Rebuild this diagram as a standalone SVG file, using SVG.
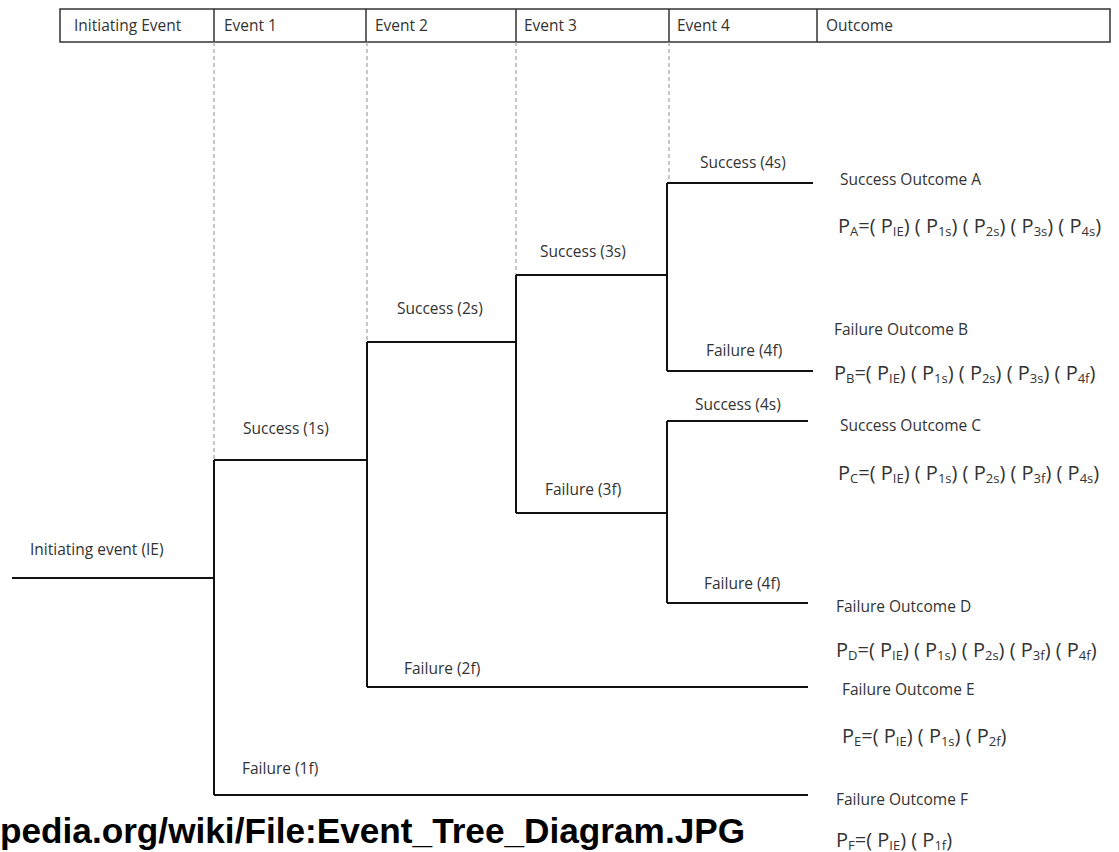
<svg xmlns="http://www.w3.org/2000/svg" width="1119" height="852" viewBox="0 0 1119 852">
<style>
.hdr{fill:none;stroke:#333;stroke-width:1.5}
.dash{stroke:#aaa;stroke-width:1.3;stroke-dasharray:4,3;fill:none}
.br{stroke:#111;stroke-width:2;fill:none}
.t{font-family:"Open Sans","Liberation Sans",sans-serif;font-size:15.5px;fill:#333}
.f{font-family:"Open Sans","Liberation Sans",sans-serif;font-size:20px;fill:#333}
.s{font-size:13px}
.src{font-family:"Liberation Sans",Arial,sans-serif;font-size:35.2px;font-weight:bold;fill:#000}
</style>
<rect width="1119" height="852" fill="#fff"/>
<g id="header">
<rect class="hdr" x="60" y="9" width="1050" height="33"/>
<line class="hdr" x1="214" y1="9" x2="214" y2="42"/>
<line class="hdr" x1="366" y1="9" x2="366" y2="42"/>
<line class="hdr" x1="516" y1="9" x2="516" y2="42"/>
<line class="hdr" x1="669" y1="9" x2="669" y2="42"/>
<line class="hdr" x1="817" y1="9" x2="817" y2="42"/>
<text class="t" x="74" y="31">Initiating Event</text>
<text class="t" x="224" y="31">Event 1</text>
<text class="t" x="375" y="31">Event 2</text>
<text class="t" x="524" y="31">Event 3</text>
<text class="t" x="677" y="31">Event 4</text>
<text class="t" x="826" y="31">Outcome</text>
</g>
<g id="guides">
<line class="dash" x1="214" y1="42" x2="214" y2="460"/>
<line class="dash" x1="367" y1="42" x2="367" y2="342"/>
<line class="dash" x1="516" y1="42" x2="516" y2="275"/>
<line class="dash" x1="669" y1="42" x2="669" y2="183"/>
</g>
<g id="connectors">
<path class="br" d="M12,578 H214"/>
<path class="br" d="M214,460 V795"/>
<path class="br" d="M214,460 H367"/>
<path class="br" d="M214,795 H808"/>
<path class="br" d="M367,342 V687"/>
<path class="br" d="M367,342 H516"/>
<path class="br" d="M367,687 H808"/>
<path class="br" d="M516,275 V513"/>
<path class="br" d="M516,275 H667"/>
<path class="br" d="M516,513 H667"/>
<path class="br" d="M667,183 V371"/>
<path class="br" d="M667,183 H813"/>
<path class="br" d="M667,371 H813"/>
<path class="br" d="M667,421 V603"/>
<path class="br" d="M667,421 H808"/>
<path class="br" d="M667,603 H808"/>
</g>
<g id="branch-labels">
<text class="t" x="30" y="555">Initiating event (IE)</text>
<text class="t" x="243" y="434">Success (1s)</text>
<text class="t" x="242" y="774">Failure (1f)</text>
<text class="t" x="397" y="314">Success (2s)</text>
<text class="t" x="404" y="674">Failure (2f)</text>
<text class="t" x="540" y="257">Success (3s)</text>
<text class="t" x="545" y="495">Failure (3f)</text>
<text class="t" x="700" y="168">Success (4s)</text>
<text class="t" x="706" y="356">Failure (4f)</text>
<text class="t" x="695" y="410">Success (4s)</text>
<text class="t" x="704" y="589">Failure (4f)</text>
</g>
<g id="outcome-A">
<text class="t" x="840" y="185">Success Outcome A</text>
<text class="f" x="838" y="233">P<tspan class="s" dy="3">A</tspan><tspan dy="-3">=( P</tspan><tspan class="s" dy="3">IE</tspan><tspan dy="-3">) ( P</tspan><tspan class="s" dy="3">1s</tspan><tspan dy="-3">) ( P</tspan><tspan class="s" dy="3">2s</tspan><tspan dy="-3">) ( P</tspan><tspan class="s" dy="3">3s</tspan><tspan dy="-3">) ( P</tspan><tspan class="s" dy="3">4s</tspan><tspan dy="-3">)</tspan></text>
</g>
<g id="outcome-B">
<text class="t" x="834" y="335">Failure Outcome B</text>
<text class="f" x="834" y="380">P<tspan class="s" dy="3">B</tspan><tspan dy="-3">=( P</tspan><tspan class="s" dy="3">IE</tspan><tspan dy="-3">) ( P</tspan><tspan class="s" dy="3">1s</tspan><tspan dy="-3">) ( P</tspan><tspan class="s" dy="3">2s</tspan><tspan dy="-3">) ( P</tspan><tspan class="s" dy="3">3s</tspan><tspan dy="-3">) ( P</tspan><tspan class="s" dy="3">4f</tspan><tspan dy="-3">)</tspan></text>
</g>
<g id="outcome-C">
<text class="t" x="840" y="431">Success Outcome C</text>
<text class="f" x="838" y="480">P<tspan class="s" dy="3">C</tspan><tspan dy="-3">=( P</tspan><tspan class="s" dy="3">IE</tspan><tspan dy="-3">) ( P</tspan><tspan class="s" dy="3">1s</tspan><tspan dy="-3">) ( P</tspan><tspan class="s" dy="3">2s</tspan><tspan dy="-3">) ( P</tspan><tspan class="s" dy="3">3f</tspan><tspan dy="-3">) ( P</tspan><tspan class="s" dy="3">4s</tspan><tspan dy="-3">)</tspan></text>
</g>
<g id="outcome-D">
<text class="t" x="836" y="612">Failure Outcome D</text>
<text class="f" x="836" y="657">P<tspan class="s" dy="3">D</tspan><tspan dy="-3">=( P</tspan><tspan class="s" dy="3">IE</tspan><tspan dy="-3">) ( P</tspan><tspan class="s" dy="3">1s</tspan><tspan dy="-3">) ( P</tspan><tspan class="s" dy="3">2s</tspan><tspan dy="-3">) ( P</tspan><tspan class="s" dy="3">3f</tspan><tspan dy="-3">) ( P</tspan><tspan class="s" dy="3">4f</tspan><tspan dy="-3">)</tspan></text>
</g>
<g id="outcome-E">
<text class="t" x="842" y="695">Failure Outcome E</text>
<text class="f" x="842" y="743">P<tspan class="s" dy="3">E</tspan><tspan dy="-3">=( P</tspan><tspan class="s" dy="3">IE</tspan><tspan dy="-3">) ( P</tspan><tspan class="s" dy="3">1s</tspan><tspan dy="-3">) ( P</tspan><tspan class="s" dy="3">2f</tspan><tspan dy="-3">)</tspan></text>
</g>
<g id="outcome-F">
<text class="t" x="836" y="805">Failure Outcome F</text>
<text class="f" x="836" y="847">P<tspan class="s" dy="3">F</tspan><tspan dy="-3">=( P</tspan><tspan class="s" dy="3">IE</tspan><tspan dy="-3">) ( P</tspan><tspan class="s" dy="3">1f</tspan><tspan dy="-3">)</tspan></text>
</g>
<g id="source">
<text class="src" x="0" y="843">pedia.org/wiki/File:Event_Tree_Diagram.JPG</text>
</g>
</svg>
